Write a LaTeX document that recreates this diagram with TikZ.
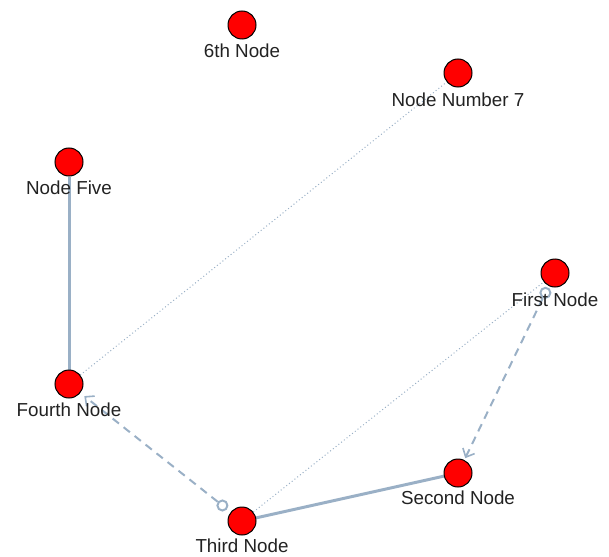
\documentclass[tikz,border=0pt]{standalone}
\usepackage{fontspec}
\setmainfont{Liberation Sans}
\usetikzlibrary{arrows.meta,backgrounds,calc}
\definecolor{edgec}{RGB}{154,176,198}
\definecolor{txt}{RGB}{34,34,34}
\tikzset{
  vert/.style={circle,draw=black,line width=1pt,fill=red,minimum size=28pt,inner sep=0pt},
  lbl/.style={font=\fontsize{18.8}{21}\selectfont,text=txt,inner sep=0pt,anchor=center},
  thick edge/.style={draw=edgec,line width=3pt},
  dot edge/.style={draw=edgec,line width=1pt,dash pattern=on 1pt off 2.5pt},
  dash edge/.style={draw=edgec,line width=2pt,dash pattern=on 8pt off 6pt,
     -{Straight Barb[length=7pt,width=13pt,line width=1.6pt]}},
  ring/.style={circle,draw=edgec,line width=2pt,minimum size=10pt,inner sep=0pt}
}
\begin{document}
\begin{tikzpicture}[x=1pt,y=-1pt]
\useasboundingbox (0,0) rectangle (609,556);
\node[vert] (n1) at (555,273) {};
\node[vert] (n2) at (458,473) {};
\node[vert] (n3) at (242,521) {};
\node[vert] (n4) at (69,384) {};
\node[vert] (n5) at (69,162) {};
\node[vert] (n6) at (242,25) {};
\node[vert] (n7) at (458,73) {};
\node[lbl] (l1) at (555,300) {First Node};
\node[lbl] (l2) at (458,498) {Second Node};
\node[lbl] (l3) at (242,546) {Third Node};
\node[lbl] (l4) at (69,410) {Fourth Node};
\node[lbl] (l5) at (69,188) {Node Five};
\node[lbl] (l6) at (242,51) {6th Node};
\node[lbl] (l7) at (458,100) {Node Number 7};
\begin{scope}[on background layer]
\draw[thick edge] (n2) -- (n3);
\draw[thick edge] (n4) -- (n5);
\draw[dot edge] (n3) -- (n1);
\draw[dot edge] (n4) -- (n7);
\node[ring] (r1) at ($(n1)!22pt!(n2)$) {};
\node[ring] (r3) at ($(n3)!25pt!(n4)$) {};
\draw[dash edge,shorten >=2pt] (r1) -- (n2);
\draw[dash edge,shorten >=5pt] (r3) -- (n4);
\end{scope}
\end{tikzpicture}
\end{document}
